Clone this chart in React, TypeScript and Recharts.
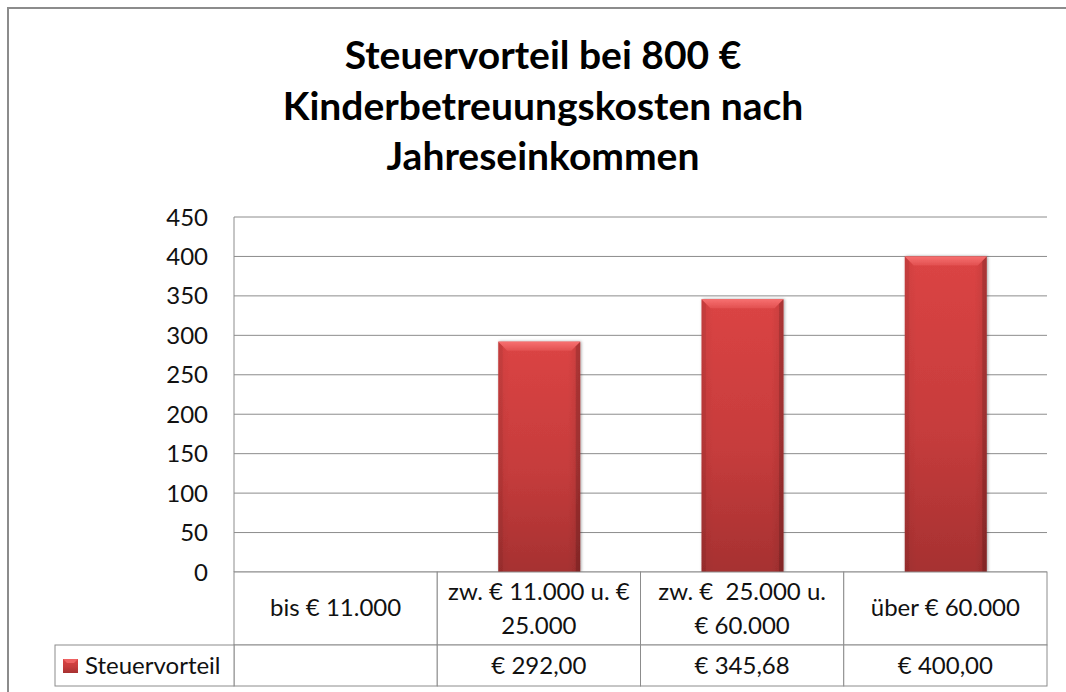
import React from 'react';
import { BarChart, Bar, XAxis, YAxis, CartesianGrid } from 'recharts';

const titleLines = ['Steuervorteil bei 800 €', 'Kinderbetreuungskosten nach', 'Jahreseinkommen'];
const seriesName = 'Steuervorteil';
const categories = ['bis € 11.000', 'zw. € 11.000 u. €\n25.000', 'zw. €  25.000 u.\n€ 60.000', 'über € 60.000'];
const values: (number | null)[] = [null, 292, 345.68, 400];
const valueLabels = ['', '€ 292,00', '€ 345,68', '€ 400,00'];
const yTicks = [0, 50, 100, 150, 200, 250, 300, 350, 400, 450];

const data = categories.map((c, i) => ({ name: c, value: values[i] }));

const W = 1066;
const H = 692;
const M = { top: 217, right: 19, bottom: 6, left: 0 };
const Y_W = 234;
const X_H = 114;
const PLOT_W = W - M.left - M.right - Y_W;
const BAND = PLOT_W / categories.length;
const HEAD_H = 73;
const VAL_H = 41;
const LEGEND_X = 55;
const GRID = '#8c8c8c';
const FONT = 'Lato, "Open Sans", sans-serif';
const FS = 24;

const TableTick = (props: any) => {
  const { x, y, payload } = props;
  const i = payload.index;
  const left = x - BAND / 2;
  const lines = String(payload.value).split('\n');
  const textStyle = { fontFamily: FONT, fontSize: FS, fill: '#111', whiteSpace: 'pre' as const };
  return (
    <g>
      <rect x={left} y={y} width={BAND} height={HEAD_H} fill="#fff" stroke={GRID} strokeWidth={1} />
      <rect x={left} y={y + HEAD_H} width={BAND} height={VAL_H} fill="#fff" stroke={GRID} strokeWidth={1} />
      {lines.length === 1 ? (
        <text x={x} y={y + 44} textAnchor="middle" style={textStyle}>{lines[0]}</text>
      ) : (
        lines.map((l, k) => (
          <text key={k} x={x} y={y + 28 + k * 34} textAnchor="middle" style={textStyle}>{l}</text>
        ))
      )}
      <text x={x} y={y + HEAD_H + 29} textAnchor="middle" style={textStyle}>{valueLabels[i]}</text>
      {i === 0 && (
        <g>
          <rect x={LEGEND_X} y={y + HEAD_H} width={left - LEGEND_X} height={VAL_H} fill="#fff" stroke={GRID} strokeWidth={1} />
          <rect x={LEGEND_X + 8} y={y + HEAD_H + 14} width={15} height={14} fill="url(#barGrad)" />
          <polygon
            points={`${LEGEND_X + 8},${y + HEAD_H + 14} ${LEGEND_X + 23},${y + HEAD_H + 14} ${LEGEND_X + 19},${y + HEAD_H + 18} ${LEGEND_X + 12},${y + HEAD_H + 18}`}
            fill="#ee6262"
          />
          <text x={LEGEND_X + 30} y={y + HEAD_H + 29} style={textStyle}>{seriesName}</text>
        </g>
      )}
    </g>
  );
};

const BevelBar = (props: any) => {
  const { x, y, width, height } = props;
  if (!height || height <= 0) return null;
  const b = 9;
  return (
    <g filter="url(#barShadow)">
      <rect x={x} y={y} width={width} height={height} fill="url(#barGrad)" />
      <rect x={x} y={y} width={width} height={height} fill="url(#sideGrad)" />
      <polygon points={`${x},${y} ${x + width},${y} ${x + width - b},${y + b} ${x + b},${y + b}`} fill="url(#topGrad)" />
      <polygon points={`${x},${y} ${x + b * 0.5},${y + b * 0.5} ${x + b * 0.5},${y + height} ${x},${y + height}`} fill="rgba(0,0,0,0.06)" />
      <polygon points={`${x + width},${y} ${x + width - b * 0.5},${y + b * 0.5} ${x + width - b * 0.5},${y + height} ${x + width},${y + height}`} fill="rgba(0,0,0,0.14)" />
    </g>
  );
};

export default function App() {
  return (
    <div style={{ position: 'absolute', left: 0, top: 0, width: W, height: H, background: '#fff', overflow: 'hidden' }}>
      <div
        style={{
          position: 'absolute',
          left: 7,
          top: 7,
          width: W,
          height: H,
          borderTop: `2px solid ${GRID}`,
          borderLeft: `2px solid ${GRID}`,
          boxSizing: 'border-box',
        }}
      />
      <svg width={W} height={H} style={{ position: 'absolute', left: 0, top: 0 }}>
        <defs>
          <linearGradient id="barGrad" x1="0" y1="0" x2="0" y2="1">
            <stop offset="0%" stopColor="#db4444" />
            <stop offset="55%" stopColor="#c63c3c" />
            <stop offset="100%" stopColor="#a63131" />
          </linearGradient>
          <linearGradient id="sideGrad" x1="0" y1="0" x2="1" y2="0">
            <stop offset="0%" stopColor="#000" stopOpacity={0.05} />
            <stop offset="15%" stopColor="#000" stopOpacity={0} />
            <stop offset="85%" stopColor="#000" stopOpacity={0} />
            <stop offset="100%" stopColor="#000" stopOpacity={0.1} />
          </linearGradient>
          <linearGradient id="topGrad" x1="0" y1="0" x2="0" y2="1">
            <stop offset="0%" stopColor="#f77070" />
            <stop offset="100%" stopColor="#e25050" />
          </linearGradient>
          <filter id="barShadow" x="-20%" y="-5%" width="140%" height="110%">
            <feDropShadow dx="1" dy="0" stdDeviation="1.5" floodColor="#000" floodOpacity="0.35" />
          </filter>
        </defs>
        {titleLines.map((t, k) => (
          <text
            key={k}
            x={543}
            y={69 + k * 50.5}
            textAnchor="middle"
            style={{ fontFamily: FONT, fontWeight: 700, fontSize: 39, fill: '#000' }}
          >
            {t}
          </text>
        ))}
      </svg>
      <div style={{ position: 'absolute', left: 0, top: 0 }}>
        <BarChart width={W} height={H} data={data} margin={M} barSize={82}>
          <CartesianGrid vertical={false} stroke={GRID} strokeWidth={1} />
          <XAxis
            dataKey="name"
            height={X_H}
            interval={0}
            tickLine={false}
            axisLine={false}
            tickSize={0}
            tickMargin={0}
            tick={<TableTick />}
          />
          <YAxis
            width={Y_W}
            domain={[0, 450]}
            ticks={yTicks}
            interval={0}
            tickLine={false}
            tickSize={0}
            tickMargin={26}
            axisLine={{ stroke: GRID, strokeWidth: 1 }}
            tick={{ fontFamily: FONT, fontSize: FS, fill: '#111' }}
          />
          <Bar dataKey="value" name={seriesName} shape={<BevelBar />} isAnimationActive={false} />
        </BarChart>
      </div>
    </div>
  );
}
